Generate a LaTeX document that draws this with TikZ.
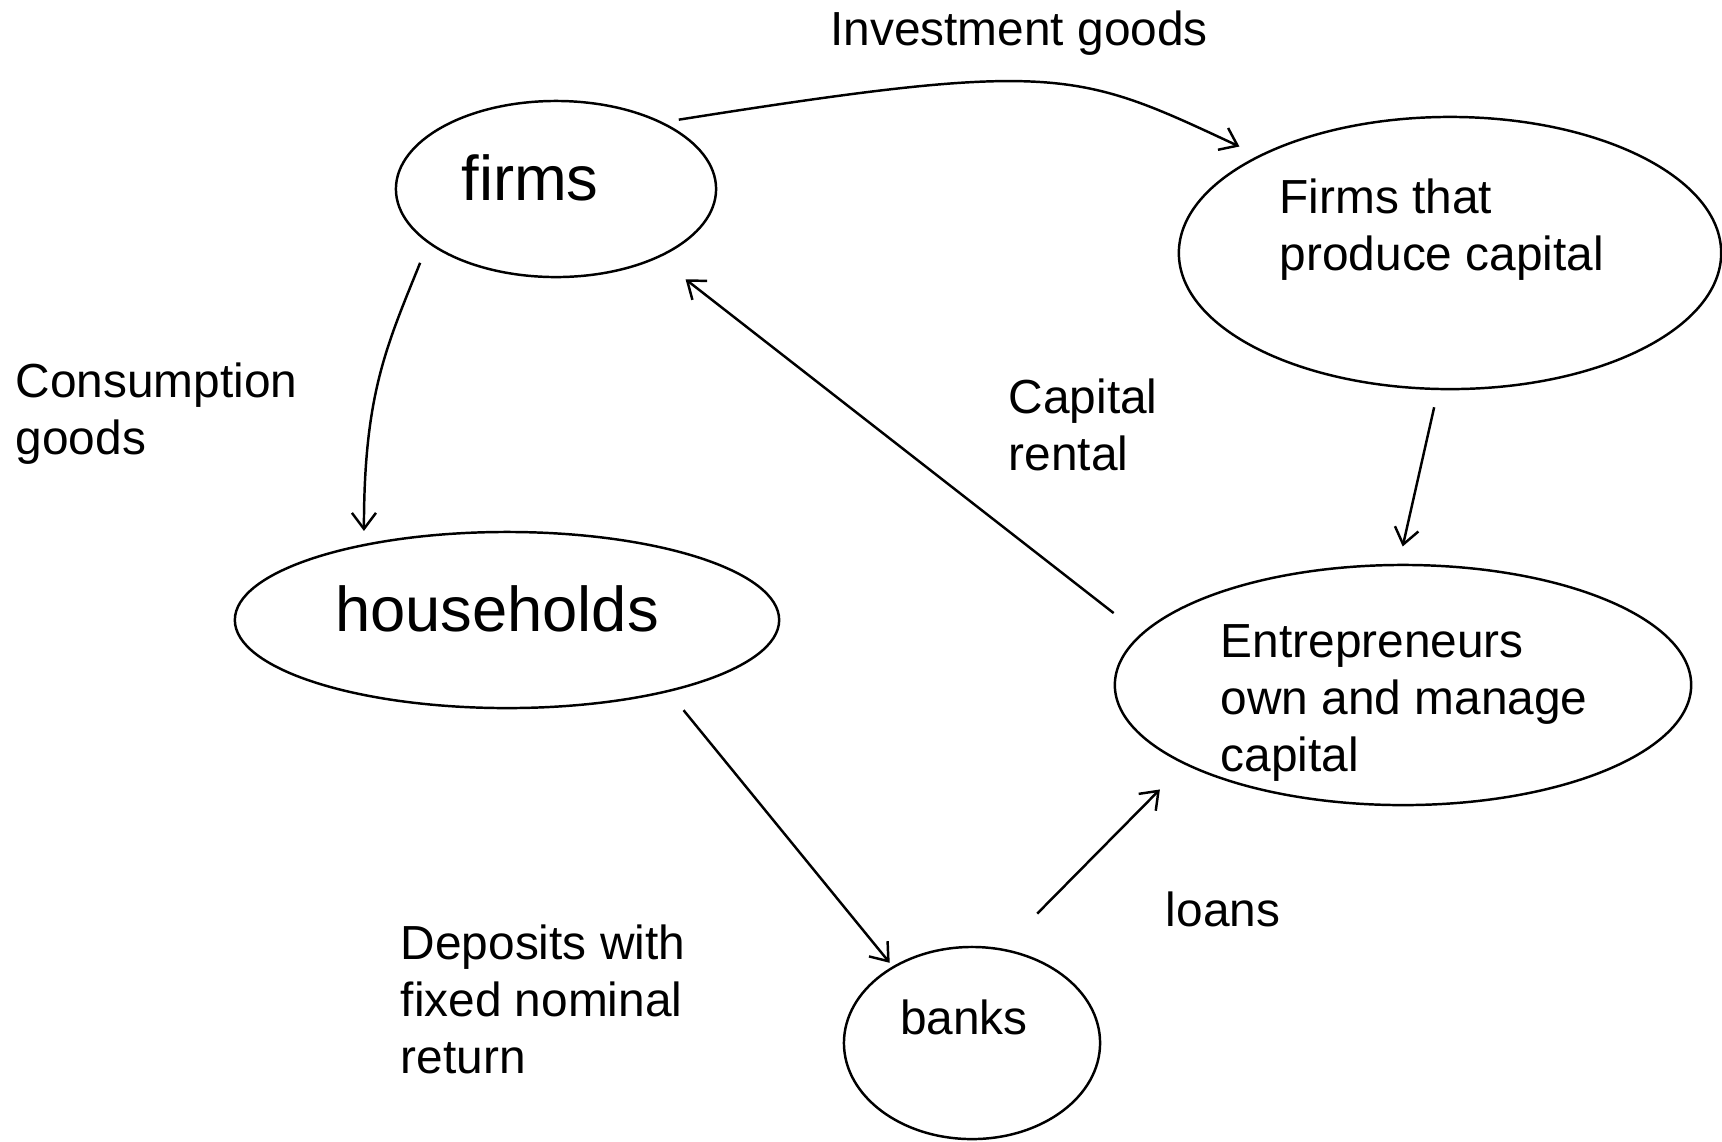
\documentclass[tikz,border=0pt]{standalone}
\usepackage{fontspec}
\setmainfont{Liberation Sans}
\usetikzlibrary{arrows.meta,shapes.geometric}

\begin{document}
\begin{tikzpicture}[
  x=0.01cm, y=-0.01cm,
  blob/.style={draw, ellipse, inner sep=0, line width=0.7pt},
  lbl/.style={font=\fontsize{13.6}{16.2}\selectfont, align=left, inner sep=0},
  biglbl/.style={font=\fontsize{18}{21}\selectfont, inner sep=0},
  arrow/.style={-{Straight Barb[length=1.6mm,width=2.4mm]}, line width=0.7pt}
]
\useasboundingbox (0,0) rectangle (1722,1141);
% sectors
\node[blob, minimum width=3.2cm, minimum height=1.76cm] (firms) at (556,189) {};
\node[blob, minimum width=5.42cm, minimum height=2.72cm] (capfirms) at (1450,253) {};
\node[blob, minimum width=5.44cm, minimum height=1.76cm] (hh) at (507,620) {};
\node[blob, minimum width=5.76cm, minimum height=2.4cm] (entre) at (1403,685) {};
\node[blob, minimum width=2.56cm, minimum height=1.92cm] (banks) at (972,1043) {};
% texts inside
\node[biglbl] (firmstxt) at (530,178) {firms};
\node[lbl, anchor=west] (capfirmstxt) at (1279,230) {Firms that\\produce capital};
\node[biglbl] (hhtxt) at (497,609) {households};
\node[lbl, anchor=west] (entretxt) at (1220,703) {Entrepreneurs\\own and manage\\capital};
\node[lbl] (bankstxt) at (964,1017) {banks};
% flow labels
\node[lbl] (invest) at (1019,33) {Investment goods};
\node[lbl, anchor=west] (consum) at (15,414) {Consumption\\goods};
\node[lbl, anchor=west] (rental) at (1008,425) {Capital\\rental};
\node[lbl, anchor=west] (deposits) at (400,999) {Deposits with\\fixed nominal\\return};
\node[lbl] (loans) at (1223,909) {loans};
% flows
\draw[arrow, shorten <=0.16cm, shorten >=0.21cm] (firms.32) .. controls +(9:4cm) and +(155:2cm) .. (capfirms.153);
\draw[arrow, shorten <=0.21cm, shorten >=0.13cm] (firms.-157) .. controls +(-112:1.1cm) and +(90:1.5cm) .. (hh.152);
\draw[arrow, shorten <=0.34cm, shorten >=0.345cm] (entre.169) -- (firms.-34);
\draw[arrow, shorten <=0.175cm, shorten >=0.177cm] (capfirms.-95) -- (entre.92);
\draw[arrow, shorten <=0.235cm, shorten >=0.045cm] (hh.-24) -- (banks.136);
\draw[arrow, shorten <=0.49cm, shorten >=0.35cm] (banks.72) -- (entre.-160);
\end{tikzpicture}
\end{document}
